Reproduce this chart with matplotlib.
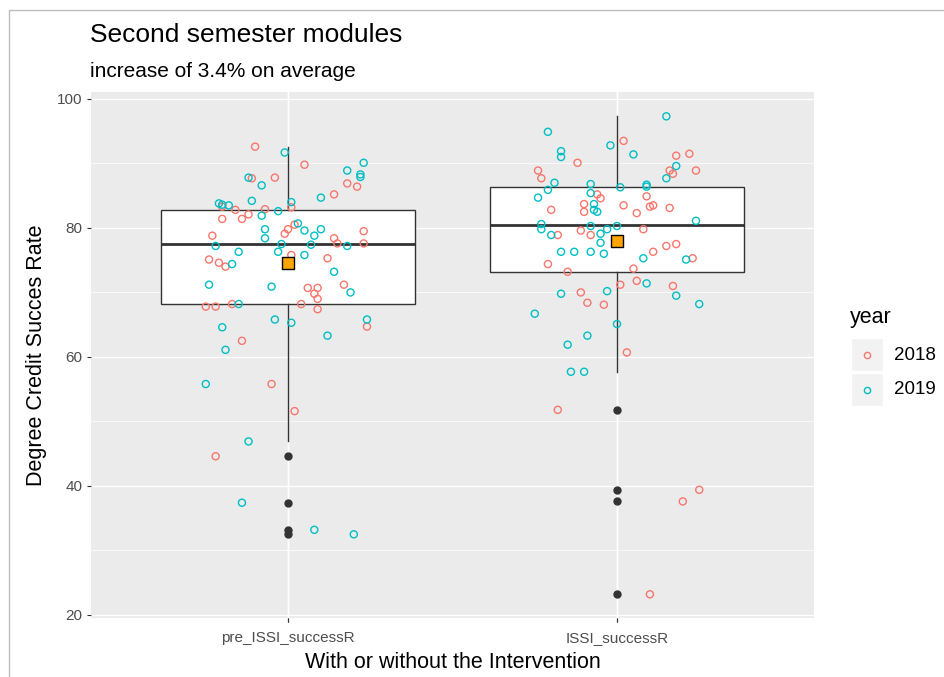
import matplotlib.pyplot as plt
from matplotlib.lines import Line2D
from matplotlib.patches import Rectangle

plt.rcParams['font.family'] = ['Liberation Sans', 'DejaVu Sans']

groups = ['pre_ISSI_successR', 'ISSI_successR']
years = ['2018', '2019']
year_colors = ['#F8766D', '#00BFC4']

# jittered raw points: value and horizontal offset from the category centre
pre_2018_val = [92.6, 89.8, 86.9, 86.4, 87.7, 87.8, 85.2, 83.2, 83.3, 82.8, 82.9, 82.1, 81.4, 81.4,
                80.5, 79.8, 79.1, 78.8, 79.5, 78.4, 77.6, 77.6, 75.8, 75.1, 74.6, 74.0, 75.3, 70.7,
                70.7, 69.8, 69.0, 71.2, 67.8, 67.8, 68.2, 68.2, 67.4, 64.7, 62.5, 55.8, 51.6, 44.6]
pre_2018_jit = [-0.10, 0.05, 0.18, 0.21, -0.11, -0.04, 0.14, 0.01, -0.20, -0.16, -0.07, -0.12, -0.14, -0.20,
                0.02, 0.00, -0.01, -0.23, 0.23, 0.14, 0.15, 0.23, 0.01, -0.24, -0.21, -0.19, 0.12, 0.06,
                0.09, 0.08, 0.09, 0.17, -0.25, -0.22, -0.17, 0.04, 0.09, 0.24, -0.14, -0.05, 0.02, -0.22]
pre_2019_val = [91.7, 90.1, 88.9, 88.3, 87.9, 87.8, 86.6, 84.7, 84.2, 83.8, 83.6, 83.5, 84.0, 82.6,
                81.9, 80.7, 79.6, 79.8, 78.8, 79.8, 78.4, 77.2, 77.4, 77.5, 77.2, 76.3, 76.3, 75.8,
                74.4, 73.2, 71.2, 70.9, 70.0, 68.2, 65.8, 65.3, 65.8, 64.6, 63.3, 61.1, 55.8, 46.9,
                37.4, 33.2, 32.5]
pre_2019_jit = [-0.01, 0.23, 0.18, 0.22, 0.22, -0.12, -0.08, 0.10, -0.11, -0.21, -0.20, -0.18, 0.01, -0.03,
                -0.08, 0.03, 0.05, 0.10, 0.08, -0.07, -0.07, 0.18, 0.07, -0.02, -0.22, -0.15, -0.03, 0.05,
                -0.17, 0.14, -0.24, -0.05, 0.19, -0.15, -0.04, 0.01, 0.24, -0.20, 0.12, -0.19, -0.25, -0.12,
                -0.14, 0.08, 0.20]
post_2018_val = [93.5, 91.2, 91.5, 90.1, 88.9, 87.7, 88.9, 88.4, 88.9, 85.2, 84.6, 84.9, 82.8, 83.7,
                 82.5, 83.5, 82.3, 83.3, 83.5, 83.1, 78.9, 79.6, 78.9, 79.8, 77.2, 77.5, 76.3, 75.3,
                 74.4, 73.2, 73.7, 71.8, 71.2, 71.0, 70.0, 68.4, 68.1, 60.7, 51.8, 39.4, 37.6, 23.2]
post_2018_jit = [0.02, 0.18, 0.22, -0.12, -0.24, -0.23, 0.16, 0.17, 0.24, -0.06, -0.05, 0.09, -0.20, -0.10,
                 -0.10, 0.02, 0.06, 0.10, 0.11, 0.16, -0.18, -0.11, -0.08, 0.08, 0.15, 0.18, 0.11, 0.23,
                 -0.21, -0.15, 0.05, 0.06, 0.01, 0.17, -0.11, -0.09, -0.04, 0.03, -0.18, 0.25, 0.20, 0.10]
post_2019_val = [97.3, 94.9, 92.8, 91.9, 91.0, 91.4, 89.6, 87.7, 87.0, 86.8, 86.3, 86.7, 86.4, 85.9,
                 84.7, 85.4, 83.7, 82.8, 82.5, 81.1, 80.6, 79.8, 78.9, 80.3, 79.1, 79.8, 80.3, 77.7,
                 76.3, 76.3, 76.3, 76.0, 75.1, 75.3, 71.4, 69.5, 69.8, 70.2, 68.2, 66.7, 65.1, 63.3,
                 61.9, 57.7, 57.7]
post_2019_jit = [0.15, -0.21, -0.02, -0.17, -0.17, 0.05, 0.18, 0.15, -0.19, -0.08, 0.01, 0.09, 0.09, -0.21,
                 -0.24, -0.08, -0.07, -0.07, -0.06, 0.24, -0.23, -0.23, -0.20, -0.08, -0.05, -0.03, 0.00, -0.05,
                 -0.17, -0.13, -0.08, -0.04, 0.21, 0.08, 0.09, 0.18, -0.17, -0.03, 0.25, -0.25, 0.00, -0.09,
                 -0.15, -0.14, -0.10]

# box statistics
box_q1 = [68.2, 73.2]
box_med = [77.5, 80.4]
box_q3 = [82.8, 86.3]
box_lo = [46.9, 57.7]
box_hi = [92.6, 97.3]
box_mean = [74.5, 78.0]
box_out = [[44.6, 37.4, 33.2, 32.6], [51.8, 39.4, 37.6, 23.2]]

fig = plt.figure(figsize=(9.44, 6.77), dpi=100)
ax = fig.add_axes([0.096, 0.0869, 0.7667, 0.7765])

ax.set_facecolor('#EBEBEB')
for s in ax.spines.values():
    s.set_visible(False)
ax.set_xlim(0.4, 2.6)
ax.set_ylim(19.5, 101.0)
ax.set_yticks([20, 40, 60, 80, 100])
ax.set_yticks([30, 50, 70, 90], minor=True)
ax.set_xticks([1, 2])
ax.set_xticklabels(groups)
ax.grid(True, which='major', color='white', linewidth=1.0)
ax.grid(True, which='minor', axis='y', color='white', linewidth=0.5)
ax.set_axisbelow(True)
ax.tick_params(which='major', length=3, width=0.8, color='#333333', labelcolor='#4D4D4D',
               labelsize=11, pad=3)
ax.tick_params(axis='x', which='major', pad=6)
ax.tick_params(which='minor', length=0)

stats = []
for i in range(2):
    stats.append({'q1': box_q1[i], 'med': box_med[i], 'q3': box_q3[i], 'whislo': box_lo[i],
                  'whishi': box_hi[i], 'fliers': box_out[i], 'label': groups[i]})
ax.bxp(stats, positions=[1, 2], widths=0.77, patch_artist=True, showcaps=False,
       boxprops=dict(facecolor='white', edgecolor='#333333', linewidth=1.0),
       medianprops=dict(color='#333333', linewidth=2.0),
       whiskerprops=dict(color='#333333', linewidth=1.0),
       flierprops=dict(marker='o', markerfacecolor='#333333', markeredgecolor='#333333', markersize=5),
       zorder=2)

series = [(1, pre_2018_val, pre_2018_jit, 0), (1, pre_2019_val, pre_2019_jit, 1),
          (2, post_2018_val, post_2018_jit, 0), (2, post_2019_val, post_2019_jit, 1)]
for pos, vals, jit, ci in series:
    ax.scatter([pos + j for j in jit], vals, s=26, facecolors='none',
               edgecolors=year_colors[ci], linewidths=1.0, zorder=3)

ax.scatter([1, 2], box_mean, marker='s', s=80, color='#FFA500', edgecolors='black',
           linewidths=1.0, zorder=4)

ax.set_xlabel('With or without the Intervention', fontsize=15.5, color='black', labelpad=5)
ax.set_ylabel('Degree Credit Succes Rate', fontsize=15.5, color='black', labelpad=7)

fig.text(0.0953, 0.948, 'Second semester modules', fontsize=19, va='center', ha='left')
fig.text(0.0953, 0.895, 'increase of 3.4% on average', fontsize=15, va='center', ha='left')

# legend drawn by hand to get the grey key boxes
fig.text(850 / 944, 1 - 318 / 677, 'year', fontsize=15.5, va='center', ha='left')
for i, yr in enumerate(years):
    top = 338 + i * 35
    fig.patches.append(Rectangle((851 / 944, 1 - (top + 33) / 677), 32 / 944, 33 / 677,
                                 transform=fig.transFigure, facecolor='#F2F2F2',
                                 edgecolor='white', linewidth=1))
    fig.lines.append(Line2D([867 / 944], [1 - (top + 17) / 677], transform=fig.transFigure,
                            marker='o', markersize=4.5, markerfacecolor='none',
                            markeredgecolor=year_colors[i], markeredgewidth=1.0))
    fig.text(894 / 944, 1 - (top + 17) / 677, yr, fontsize=13.5, va='center', ha='left')

# frame of the screenshot
fig.lines.append(Line2D([9 / 944, 9 / 944, 1], [0, 1 - 10 / 677, 1 - 10 / 677],
                        transform=fig.transFigure, color='#BDBDBD', linewidth=1))

fig.savefig('out.png', dpi=100)
